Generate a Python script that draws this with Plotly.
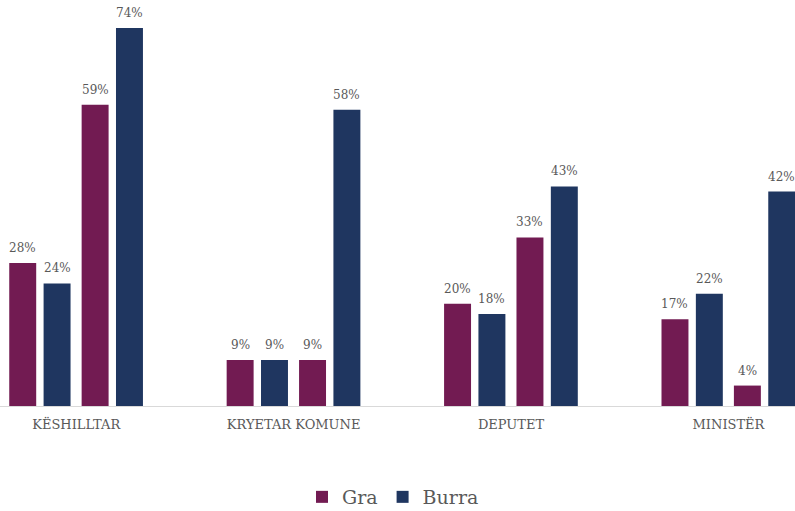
import plotly.graph_objects as go

# Categories and shares (%) for the two pairs of Gra / Burra bars
categories = ["KËSHILLTAR", "KRYETAR KOMUNE", "DEPUTET", "MINISTËR"]
gra_first = [28, 9, 20, 17]
burra_first = [24, 9, 18, 22]
gra_second = [59, 9, 33, 4]
burra_second = [74, 58, 43, 42]

GRA_COLOR = "#721B52"
BURRA_COLOR = "#1F3660"
TEXT_COLOR = "#595959"
FONT = "DejaVu Serif, Liberation Serif, serif"

series = [
    ("Gra", gra_first, GRA_COLOR, -0.308, True),
    ("Burra", burra_first, BURRA_COLOR, -0.150, True),
    ("Gra", gra_second, GRA_COLOR, 0.025, False),
    ("Burra", burra_second, BURRA_COLOR, 0.183, False),
]
BAR_WIDTH = 0.124

fig = go.Figure()
annotations = []
for name, values, color, offset, show in series:
    fig.add_trace(go.Bar(
        x=categories,
        y=values,
        name=name,
        legendgroup=name,
        showlegend=show,
        marker=dict(color=color, line=dict(width=0)),
        offset=offset,
        width=BAR_WIDTH,
        hoverinfo="skip",
    ))
    for i, v in enumerate(values):
        annotations.append(dict(
            x=i + offset + BAR_WIDTH / 2,
            y=v,
            xref="x",
            yref="y",
            text=f"{v}%",
            showarrow=False,
            yanchor="bottom",
            yshift=6,
            font=dict(family=FONT, size=12, color=TEXT_COLOR),
        ))

fig.update_layout(
    width=795,
    height=511,
    margin=dict(l=0, r=0, t=0, b=105, autoexpand=False),
    paper_bgcolor="white",
    plot_bgcolor="white",
    barmode="overlay",
    annotations=annotations,
    font=dict(family=FONT, color=TEXT_COLOR),
    xaxis=dict(
        range=[-0.3505, 3.306],
        showgrid=False,
        showline=True,
        linecolor="#D9D9D9",
        linewidth=1,
        ticks="",
        ticklabelstandoff=6,
        tickfont=dict(family=FONT, size=13, color=TEXT_COLOR),
        fixedrange=True,
    ),
    yaxis=dict(
        range=[0, 79.5],
        visible=False,
        fixedrange=True,
    ),
    legend=dict(
        orientation="h",
        xref="paper",
        yref="container",
        x=302 / 795,
        xanchor="left",
        y=14 / 511,
        yanchor="middle",
        font=dict(family=FONT, size=19, color=TEXT_COLOR),
        itemclick=False,
        itemdoubleclick=False,
    ),
    showlegend=True,
)

fig.write_html("out.html")
